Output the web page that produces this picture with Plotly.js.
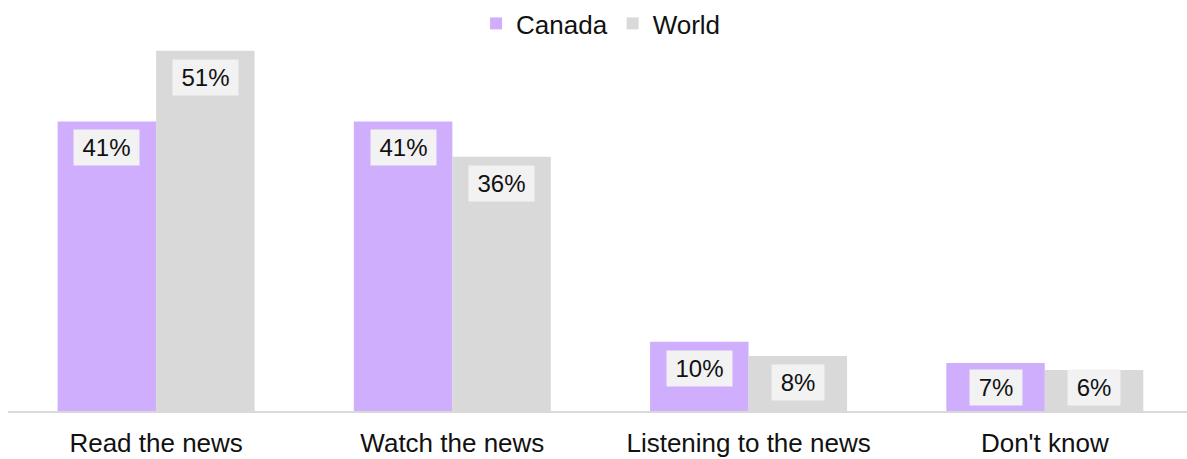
<!DOCTYPE html>
<html>
<head>
<meta charset="utf-8">
<script src="https://cdn.plot.ly/plotly-3.0.1.min.js"></script>
<style>html,body{margin:0;padding:0;background:#fff;}#chart{width:1187px;height:459px;}</style>
</head>
<body>
<div id="chart"></div>
<script>
const categories = ["Read the news", "Watch the news", "Listening to the news", "Don't know"];
const canada = [41, 41, 9.8, 6.8];
const world = [51, 36, 7.8, 5.8];
const seriesNames = ["Canada", "World"];
const seriesColors = ["#cfaffd", "#d9d9d9"];

const bargap = 0.335;
const barW = (1 - bargap) / 2;
const series = [canada, world];
const yMax = 58.2;
const plotH = 411;
const pxPerUnit = plotH / yMax;
const boxH = 35;

const traces = series.map((vals, si) => ({
  type: 'bar',
  name: seriesNames[si],
  x: categories,
  y: vals,
  marker: {color: seriesColors[si], line: {width: 0}},
  hoverinfo: 'skip'
}));

const annotations = [];
series.forEach((vals, si) => {
  vals.forEach((v, ci) => {
    const txt = Math.round(v) + '%';
    const digits = txt.length - 1;
    const barPx = v * pxPerUnit;
    const shift = Math.min(8, barPx - boxH - 7);
    annotations.push({
      x: ci + (si - 0.5) * barW,
      y: v,
      xref: 'x', yref: 'y',
      text: txt,
      showarrow: false,
      yanchor: 'top',
      xanchor: 'center',
      yshift: -shift,
      bgcolor: '#f2f2f2',
      borderpad: 1,
      width: Math.round(digits * 13.35 + 21.3 + 15),
      height: boxH - 2,
      font: {family: 'Liberation Sans, Arial, sans-serif', size: 24, color: '#111'}
    });
  });
});

const layout = {
  width: 1187,
  height: 459,
  margin: {l: 8, r: 0, t: 0, b: 48},
  paper_bgcolor: '#fff',
  plot_bgcolor: '#fff',
  barmode: 'group',
  bargap: bargap,
  bargroupgap: 0,
  showlegend: true,
  legend: {
    orientation: 'h',
    x: 0.503, xanchor: 'center',
    y: 1, yanchor: 'top',
    bgcolor: 'rgba(0,0,0,0)',
    font: {family: 'Liberation Sans, Arial, sans-serif', size: 26, color: '#111'},
    itemclick: false
  },
  xaxis: {
    type: 'category',
    range: [-0.5, 3.48],
    showline: true,
    linecolor: '#d9d9d9',
    linewidth: 2,
    ticks: '',
    ticklabelstandoff: 8,
    showgrid: false,
    zeroline: false,
    tickfont: {family: 'Liberation Sans, Arial, sans-serif', size: 26, color: '#111'},
    fixedrange: true
  },
  yaxis: {
    range: [0, yMax],
    visible: false,
    showgrid: false,
    zeroline: false,
    fixedrange: true
  },
  annotations: annotations,
  font: {family: 'Liberation Sans, Arial, sans-serif', color: '#111'}
};

Plotly.newPlot('chart', traces, layout, {displayModeBar: false, staticPlot: true});
</script>
</body>
</html>
